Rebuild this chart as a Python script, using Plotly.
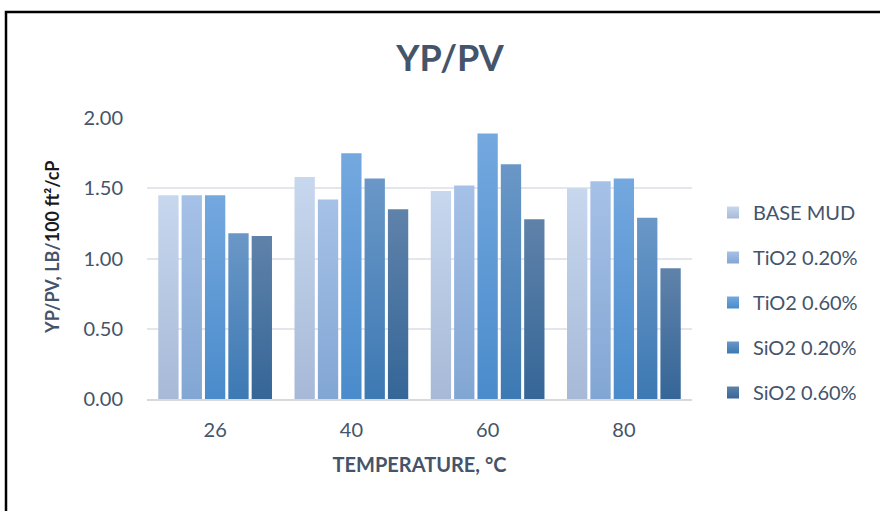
import plotly.graph_objects as go

categories = ["26", "40", "60", "80"]
series_names = ["BASE MUD", "TiO2 0.20%", "TiO2 0.60%", "SiO2 0.20%", "SiO2 0.60%"]
base_mud = [1.45, 1.58, 1.48, 1.50]
tio2_020 = [1.45, 1.42, 1.52, 1.55]
tio2_060 = [1.45, 1.75, 1.89, 1.57]
sio2_020 = [1.18, 1.57, 1.67, 1.29]
sio2_060 = [1.16, 1.35, 1.28, 0.93]
y_ticks = [0.0, 0.5, 1.0, 1.5, 2.0]
y_tick_labels = ["0.00", "0.50", "1.00", "1.50", "2.00"]

series_values = [base_mud, tio2_020, tio2_060, sio2_020, sio2_060]
solid_colors = ["#BBCFEA", "#97B6E0", "#5A9CDC", "#4C87C1", "#46709E"]
grad_colors = [
    ("#C7D7EE", "#A7B9D7"),
    ("#A6C1E7", "#82A6D3"),
    ("#74A8DF", "#4A8BCB"),
    ("#6A97C7", "#3D79B3"),
    ("#5F82AA", "#356697"),
]

TXT = "#44546A"
FONT = "Lato, 'Open Sans', sans-serif"

fig = go.Figure()
for i, (name, vals) in enumerate(zip(series_names, series_values)):
    fig.add_trace(go.Bar(
        x=categories, y=vals, name=name,
        marker=dict(color=solid_colors[i], line=dict(width=0)),
        legendgroup=f"g{i}",
    ))

L, R, T, B = 147, 188, 118, 112
W, H = 880, 511
pw, ph = W - L - R, H - T - B

def px_to_paper_x(px):
    return (px - L) / pw

def py_to_paper_y(py):
    return (H - B - py) / ph

fig.add_shape(type="rect", xref="paper", yref="paper",
              x0=px_to_paper_x(6), x1=px_to_paper_x(905),
              y0=py_to_paper_y(540), y1=py_to_paper_y(12),
              line=dict(color="black", width=2.5), fillcolor="rgba(0,0,0,0)",
              layer="above")

fig.add_annotation(
    text="<b>YP/PV, LB/<span style='color:#1a1a1a'>100 ft²/cP</span></b>",
    xref="paper", yref="paper", x=px_to_paper_x(52), y=py_to_paper_y(248),
    xanchor="center", yanchor="middle", textangle=-90, showarrow=False,
    font=dict(size=18, color=TXT, family=FONT),
)

fig.update_layout(
    width=W, height=H,
    margin=dict(l=L, r=R, t=T, b=B),
    paper_bgcolor="white", plot_bgcolor="white",
    barmode="group", bargap=0.143, bargroupgap=0.13,
    font=dict(family=FONT, color=TXT, size=20),
    title=dict(text="<b>YP/PV</b>", x=450 / W, xanchor="center",
               y=1 - 58 / H, yanchor="middle", xref="container", yref="container",
               font=dict(size=36, color=TXT, family=FONT)),
    showlegend=True,
    legend=dict(xref="container", yref="container", x=713 / W, xanchor="left",
                y=1 - 193 / H, yanchor="top", traceorder="grouped",
                tracegroupgap=16, font=dict(size=20, color=TXT, family=FONT),
                bgcolor="rgba(0,0,0,0)"),
    xaxis=dict(showline=True, linecolor="#D9D9D9", linewidth=1.5,
               ticks="", tickfont=dict(size=20, color=TXT), ticklabelstandoff=12,
               title=dict(text="<b>TEMPERATURE, °C</b>", font=dict(size=20, color=TXT),
                          standoff=18)),
    yaxis=dict(range=[0, 2.0], tickvals=y_ticks, ticktext=y_tick_labels,
               showgrid=True, gridcolor="#E3E6EA", gridwidth=1.5,
               zeroline=False, showline=False, ticks="",
               tickfont=dict(size=20, color=TXT), ticklabelstandoff=23),
)

grad_js = "var G=" + str([list(g) for g in grad_colors]) + ";"
post = grad_js + """
var gd = document.getElementsByClassName('plotly-graph-div')[0];
function applyGrad(){
  var svg = gd.querySelector('svg.main-svg');
  var ns='http://www.w3.org/2000/svg';
  var defs = svg.querySelector('defs');
  if(!defs){defs=document.createElementNS(ns,'defs');svg.insertBefore(defs,svg.firstChild);}
  for(var i=0;i<G.length;i++){
    if(!document.getElementById('bg'+i)){
      var lg=document.createElementNS(ns,'linearGradient');
      lg.setAttribute('id','bg'+i);lg.setAttribute('x1','0');lg.setAttribute('y1','0');
      lg.setAttribute('x2','0');lg.setAttribute('y2','1');
      var s1=document.createElementNS(ns,'stop');s1.setAttribute('offset','0');s1.setAttribute('stop-color',G[i][0]);
      var s2=document.createElementNS(ns,'stop');s2.setAttribute('offset','1');s2.setAttribute('stop-color',G[i][1]);
      lg.appendChild(s1);lg.appendChild(s2);defs.appendChild(lg);
    }
  }
  var traces = gd.querySelectorAll('.barlayer .trace');
  traces.forEach(function(t,i){
    t.querySelectorAll('path').forEach(function(p){p.style.fill='url(#bg'+i+')';});
  });
  var lt = gd.querySelectorAll('.legend .traces');
  lt.forEach(function(t,i){
    t.querySelectorAll('.legendpoints path').forEach(function(p){p.style.fill='url(#bg'+i+')';});
  });
}
applyGrad();
gd.on('plotly_afterplot', applyGrad);
"""

fig.write_html("out.html", post_script=post)
